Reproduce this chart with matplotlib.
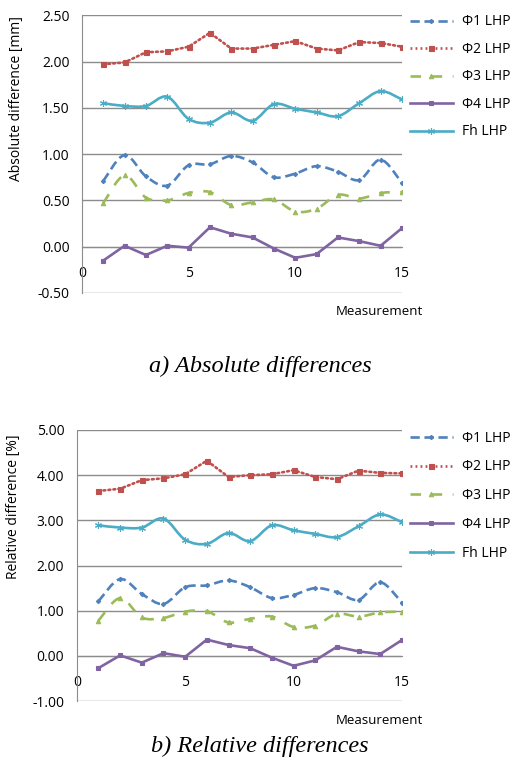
import numpy as np
import matplotlib.pyplot as plt
from matplotlib.path import Path
from matplotlib.patches import PathPatch
from matplotlib.lines import Line2D

plt.rcParams['font.family'] = ['Open Sans', 'DejaVu Sans']

meas = np.arange(1, 16)

labels = ['\u03a61 LHP', '\u03a62 LHP', '\u03a63 LHP', '\u03a64 LHP', 'Fh LHP']

# absolute differences [mm]
abs_phi1 = [0.71, 0.99, 0.76, 0.66, 0.88, 0.89, 0.98, 0.91, 0.75, 0.79, 0.87, 0.81, 0.72, 0.94, 0.69]
abs_phi2 = [1.97, 1.99, 2.10, 2.11, 2.16, 2.31, 2.14, 2.14, 2.18, 2.22, 2.14, 2.12, 2.21, 2.20, 2.16]
abs_phi3 = [0.47, 0.77, 0.53, 0.50, 0.58, 0.59, 0.45, 0.48, 0.51, 0.38, 0.41, 0.56, 0.52, 0.58, 0.59]
abs_phi4 = [-0.15, 0.01, -0.09, 0.01, -0.01, 0.21, 0.14, 0.10, -0.02, -0.12, -0.08, 0.10, 0.06, 0.01, 0.20]
abs_fh = [1.55, 1.52, 1.52, 1.62, 1.38, 1.34, 1.45, 1.36, 1.54, 1.49, 1.45, 1.41, 1.55, 1.68, 1.59]

# relative differences [%]
rel_phi1 = [1.21, 1.70, 1.37, 1.15, 1.52, 1.56, 1.67, 1.52, 1.28, 1.35, 1.50, 1.41, 1.24, 1.63, 1.18]
rel_phi2 = [3.65, 3.70, 3.89, 3.93, 4.02, 4.32, 3.96, 4.00, 4.02, 4.11, 3.96, 3.91, 4.10, 4.05, 4.04]
rel_phi3 = [0.78, 1.28, 0.85, 0.84, 0.98, 0.99, 0.74, 0.82, 0.87, 0.64, 0.67, 0.93, 0.87, 0.96, 0.98]
rel_phi4 = [-0.27, 0.01, -0.15, 0.06, -0.02, 0.36, 0.24, 0.17, -0.04, -0.22, -0.10, 0.20, 0.10, 0.04, 0.35]
rel_fh = [2.89, 2.84, 2.84, 3.04, 2.57, 2.48, 2.72, 2.54, 2.89, 2.78, 2.70, 2.63, 2.87, 3.13, 2.96]

colors = ['#4F81BD', '#C0504D', '#9BBB59', '#8064A2', '#4BACC6']
styles = [(0, (3.5, 1.8)), (0, (0.7, 1.2)), (0, (4, 4)), '-', '-']
markers = ['D', 's', '^', 's', (6, 2, 0)]
msizes = [2.2, 3.6, 3.2, 3.4, 5]
smooth = [True, False, True, False, True]
lw = 1.9


def smooth_path(x, y):
    # excel style smoothed line, bezier segments through the points
    x = np.asarray(x, float)
    y = np.asarray(y, float)
    n = len(x)
    verts = [(x[0], y[0])]
    codes = [Path.MOVETO]
    for i in range(n - 1):
        a = max(i - 1, 0)
        b = min(i + 2, n - 1)
        c1 = (x[i] + (x[i + 1] - x[a]) / 6, y[i] + (y[i + 1] - y[a]) / 6)
        c2 = (x[i + 1] - (x[b] - x[i]) / 6, y[i + 1] - (y[b] - y[i]) / 6)
        verts += [c1, c2, (x[i + 1], y[i + 1])]
        codes += [Path.CURVE4] * 3
    return Path(verts, codes)


def draw_panel(ax, series, ylim, ystep, ylabel, label_pos, leg_anchor, leg_spacing, xlab_y):
    for k, vals in enumerate(series):
        if smooth[k]:
            path = smooth_path(meas, vals)
        else:
            path = Path(np.column_stack([meas, vals]))
        cap = 'round' if k == 1 else 'butt'
        ax.add_patch(PathPatch(path, fill=False, edgecolor=colors[k], lw=lw,
                               linestyle=styles[k], capstyle=cap, zorder=3))
        ax.plot(meas, vals, linestyle='none', marker=markers[k], ms=msizes[k],
                color=colors[k], mec=colors[k], mew=0.8, zorder=4)

    ax.set_xlim(0, 15)
    ax.set_ylim(*ylim)
    ax.set_xticks([0, 5, 10, 15])
    yt = np.arange(ylim[0], ylim[1] + ystep / 2, ystep)
    ax.set_yticks(yt)
    ax.set_yticklabels(['%.2f' % v for v in yt])
    ax.grid(axis='y', color='#8c8c8c', lw=1)
    ax.set_axisbelow(True)
    for s in ['top', 'right']:
        ax.spines[s].set_visible(False)
    ax.spines['left'].set_color('#8c8c8c')
    ax.spines['bottom'].set_position(('data', 0))
    ax.spines['bottom'].set_color('#8c8c8c')
    ax.tick_params(axis='x', length=0, pad=14, labelsize=10)
    ax.tick_params(axis='y', length=0, pad=9, labelsize=10)
    ax.set_ylabel(ylabel, fontsize=10)
    ax.yaxis.set_label_coords(*label_pos)
    ax.text(0.93, xlab_y, 'Measurement', transform=ax.transAxes, ha='center',
            va='center', fontsize=9.5)

    handles = [Line2D([], [], color=colors[k], lw=lw, linestyle=styles[k],
                      marker=markers[k], ms=msizes[k], mec=colors[k], mew=0.8)
               for k in range(5)]
    ax.legend(handles, labels, loc='upper left', bbox_to_anchor=leg_anchor,
              bbox_transform=fig.transFigure, frameon=False, fontsize=10,
              handlelength=3.1, handletextpad=0.7, labelspacing=leg_spacing,
              borderpad=0, borderaxespad=0, numpoints=1)


fig = plt.figure(figsize=(5.12, 7.62), dpi=100)
ax1 = fig.add_axes([0.160, 0.6155, 0.625, 0.3645])
ax2 = fig.add_axes([0.150, 0.0800, 0.635, 0.3557])

draw_panel(ax1, [abs_phi1, abs_phi2, abs_phi3, abs_phi4, abs_fh], (-0.5, 2.5), 0.5,
           'Absolute difference [mm]', (-0.18, 0.70), (0.800, 0.981), 0.9, -0.065)
draw_panel(ax2, [rel_phi1, rel_phi2, rel_phi3, rel_phi4, rel_fh], (-1.0, 5.0), 1.0,
           'Relative difference [%]', (-0.172, 0.715), (0.800, 0.435), 1.0, -0.07)

fig.text(0.508, 0.519, 'a) Absolute differences', ha='center', va='center',
         family='Liberation Serif', style='italic', fontsize=17.5)
fig.text(0.508, 0.021, 'b) Relative differences', ha='center', va='center',
         family='Liberation Serif', style='italic', fontsize=17.5)

fig.savefig('out.png', dpi=100)
